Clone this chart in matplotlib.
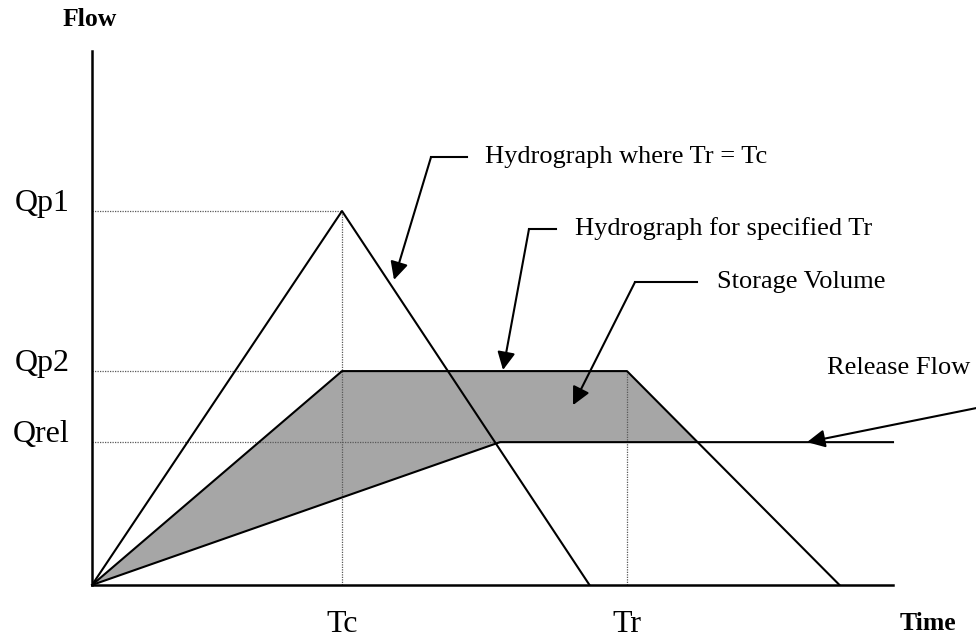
import matplotlib.pyplot as plt

# hydrograph values (time in units of Tc, flow in units of Qp1)
Tc = 1.0
Tr = 2.14
Qp1 = 1.0
Qp2 = 0.572
Qrel = 0.382
t_base1 = 1.99      # end of triangular hydrograph
t_base2 = 2.99      # end of trapezoidal hydrograph
t_rel = 1.632       # time when release flow reaches Qrel
t_max = 3.204
q_max = 1.428

tri_t = [0, Tc, t_base1]
tri_q = [0, Qp1, 0]
trap_t = [0, Tc, Tr, t_base2]
trap_q = [0, Qp2, Qp2, 0]
rel_t = [0, t_rel, t_max]
rel_q = [0, Qrel, Qrel]

plt.rcParams['font.family'] = ['Liberation Serif', 'DejaVu Serif']

fig = plt.figure(figsize=(9.76, 6.41), dpi=100)
ax = fig.add_axes([92 / 976, 56 / 641, 801 / 976, 534 / 641])
ax.set_xlim(0, t_max)
ax.set_ylim(0, q_max)
for s in ['top', 'right']:
    ax.spines[s].set_visible(False)
for s in ['left', 'bottom']:
    ax.spines[s].set_linewidth(1.8)
ax.set_xticks([])
ax.set_yticks([])

# storage volume = trapezoid above the release line
t_int = Tr + (Qp2 - Qrel) / Qp2 * (t_base2 - Tr)
ax.fill([0, Tc, Tr, t_int, t_rel], [0, Qp2, Qp2, Qrel, Qrel],
        color='#a6a6a6', lw=0, zorder=1)

# dotted guide lines
dot = dict(color='0.35', lw=0.9, ls=(0, (1, 1)), zorder=2)
ax.plot([0, Tc], [Qp1, Qp1], **dot)
ax.plot([0, Tc], [Qp2, Qp2], **dot)
ax.plot([0, t_rel], [Qrel, Qrel], **dot)
ax.plot([Tc, Tc], [0, Qp1], **dot)
ax.plot([Tr, Tr], [0, Qp2], **dot)

ln = dict(color='black', lw=1.5, zorder=3)
ax.plot(tri_t, tri_q, **ln)
ax.plot(trap_t, trap_q, **ln)
ax.plot(rel_t, rel_q, **ln, clip_on=False)

# axis labels
big = 23
ax.text(-0.088, Qp1, 'Qp1', ha='right', va='baseline', fontsize=big)
ax.text(-0.088, Qp2, 'Qp2', ha='right', va='baseline', fontsize=big)
ax.text(-0.088, Qrel, 'Qrel', ha='right', va='baseline', fontsize=big)
ax.text(Tc, -0.127, 'Tc', ha='center', va='baseline', fontsize=big)
ax.text(Tr, -0.127, 'Tr', ha='center', va='baseline', fontsize=big)
ax.text(-0.116, 1.495, 'Flow', ha='left', va='baseline', fontsize=18.5,
        fontweight='bold')
ax.text(3.232, -0.12, 'Time', ha='left', va='baseline', fontsize=18.5,
        fontweight='bold')

# callouts: (text, text pos, elbow start, elbow corner, arrow tip)
callouts = [
    ('Hydrograph where Tr = Tc', (1.572, 1.144), (1.50, 1.144), (1.356, 1.144), (1.208, 0.816)),
    ('Hydrograph for specified Tr', (1.932, 0.952), (1.856, 0.952), (1.748, 0.952), (1.644, 0.575)),
    ('Storage Volume', (2.50, 0.81), (2.42, 0.81), (2.172, 0.81), (1.924, 0.481)),
]
arrow = dict(arrowstyle='-|>,head_length=0.6,head_width=0.3', color='black',
             lw=1.5, shrinkA=0, shrinkB=0)
for label, tpos, p0, p1, tip in callouts:
    ax.text(tpos[0], tpos[1], label, ha='left', va='center', fontsize=19)
    ax.plot([p0[0], p1[0]], [p0[1], p1[1]], color='black', lw=1.5)
    ax.annotate('', xy=tip, xytext=p1, arrowprops=dict(arrow, mutation_scale=18))

ax.text(2.94, 0.58, 'Release Flow', ha='left', va='center', fontsize=19)
ax.annotate('', xy=(2.86, Qrel), xytext=(3.536, 0.473),
            arrowprops=dict(arrow, mutation_scale=18), annotation_clip=False)

fig.savefig('out.png', dpi=100)
